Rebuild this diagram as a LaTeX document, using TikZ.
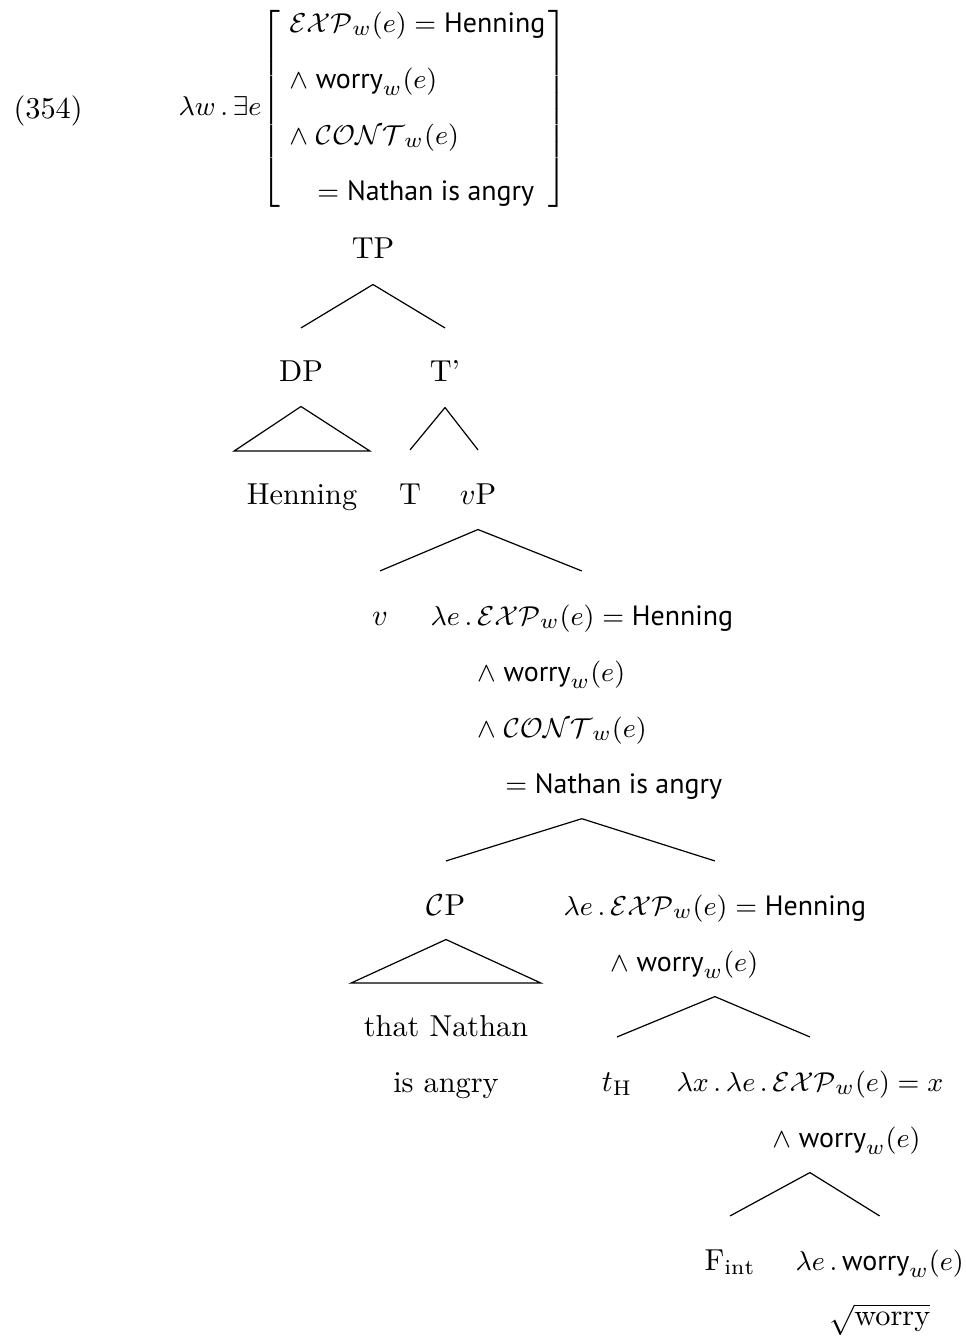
\documentclass[tikz,border=0pt]{standalone}
\usepackage{amsmath}
\usepackage{fontspec}
\setsansfont{PT Sans}[Scale=0.99]
\usetikzlibrary{calc}

\tikzset{
  lab/.style={inner sep=0pt, text height=8.4pt, text depth=3.6pt, anchor=base},
  sem/.style={inner sep=0pt, anchor=base west, font=\fontsize{9.3pt}{12pt}\selectfont}
}

\begin{document}
\begin{tikzpicture}[x=0.33pt,y=-0.33pt]
\useasboundingbox (0,0) rectangle (965,1338);

% Example number and formula
\node[inner sep=0pt,anchor=base west] (exno) at (13,119) {(354)};
\node[sem,anchor=west] (top) at (178,109)
{$\lambda w\,.\,\exists e\!\left[\begin{array}{@{\hspace{3pt}}l@{\hspace{1pt}}}
\mathcal{EXP}_w(e) = \textsf{Henning}\\[6.5pt]
\wedge\;\textsf{worry}_w(e)\\[6.5pt]
\wedge\;\mathcal{CONT}_w(e)\\[6.5pt]
\quad = \textsf{Nathan is angry}
\end{array}\right]$};

% Tree
\node[lab] (tp) at (373,259) {TP};
\node[lab] (dp) at (301,382) {DP};
\node[lab] (tbar) at (445,382) {T'};
\node[lab] (henning) at (302,504) {Henning};
\node[lab] (t) at (410,504) {T};
\node[lab] (vp) at (478,504) {$v$P};
\node[lab] (v) at (380,625) {$v$};
\node[sem] (lamA) at (430,625)
{$\lambda e\,.\,\begin{array}[t]{@{}l@{}}
\mathcal{EXP}_w(e) = \textsf{Henning}\\[6.5pt]
\wedge\;\textsf{worry}_w(e)\\[6.5pt]
\wedge\;\mathcal{CONT}_w(e)\\[6.5pt]
\quad = \textsf{Nathan is angry}
\end{array}$};
\node[lab] (cp) at (446,915) {$\mathcal{C}$P};
\node[sem] (lamB) at (563,915)
{$\lambda e\,.\,\begin{array}[t]{@{}l@{}}
\mathcal{EXP}_w(e) = \textsf{Henning}\\[6.5pt]
\wedge\;\textsf{worry}_w(e)
\end{array}$};
\node[inner sep=0pt,anchor=base] (that) at (446,1036)
{\begin{tabular}[t]{@{}c@{}}that Nathan\\[6.5pt] is angry\end{tabular}};
\node[lab] (th) at (617,1091) {$t_{\mathrm{H}}$};
\node[sem] (lamC) at (676,1091)
{$\lambda x\,.\,\lambda e\,.\,\begin{array}[t]{@{}l@{}}
\mathcal{EXP}_w(e) = x\\[6.5pt]
\wedge\;\textsf{worry}_w(e)
\end{array}$};
\node[lab] (fint) at (730,1270) {F$_{\mathrm{int}}$};
\node[lab,sem] (lamD) at (795,1270) {$\lambda e\,.\,\textsf{worry}_w(e)$};
\node[lab] (root) at ($(lamD.base)+(0,55)$) {$\sqrt{\text{worry}}$};

% branches
\foreach \p/\c in {tp/dp,tp/tbar,tbar/t,tbar/vp,vp/v,vp/lamA,lamA/cp,lamA/lamB,
  lamB/th,lamB/lamC,lamC/fint,lamC/lamD}
{
\draw ($(\p.south)+(0,14)$) -- ($(\c.north)+(0,-28)$);
}

% roofs
\foreach \p/\c in {dp/henning,cp/that}
{
\draw ($(\p.south)+(0,13)$) -- ($(\c.north west)+(-12,-27)$)
  -- ($(\c.north east)+(12,-27)$) -- cycle;
}

\end{tikzpicture}
\end{document}
